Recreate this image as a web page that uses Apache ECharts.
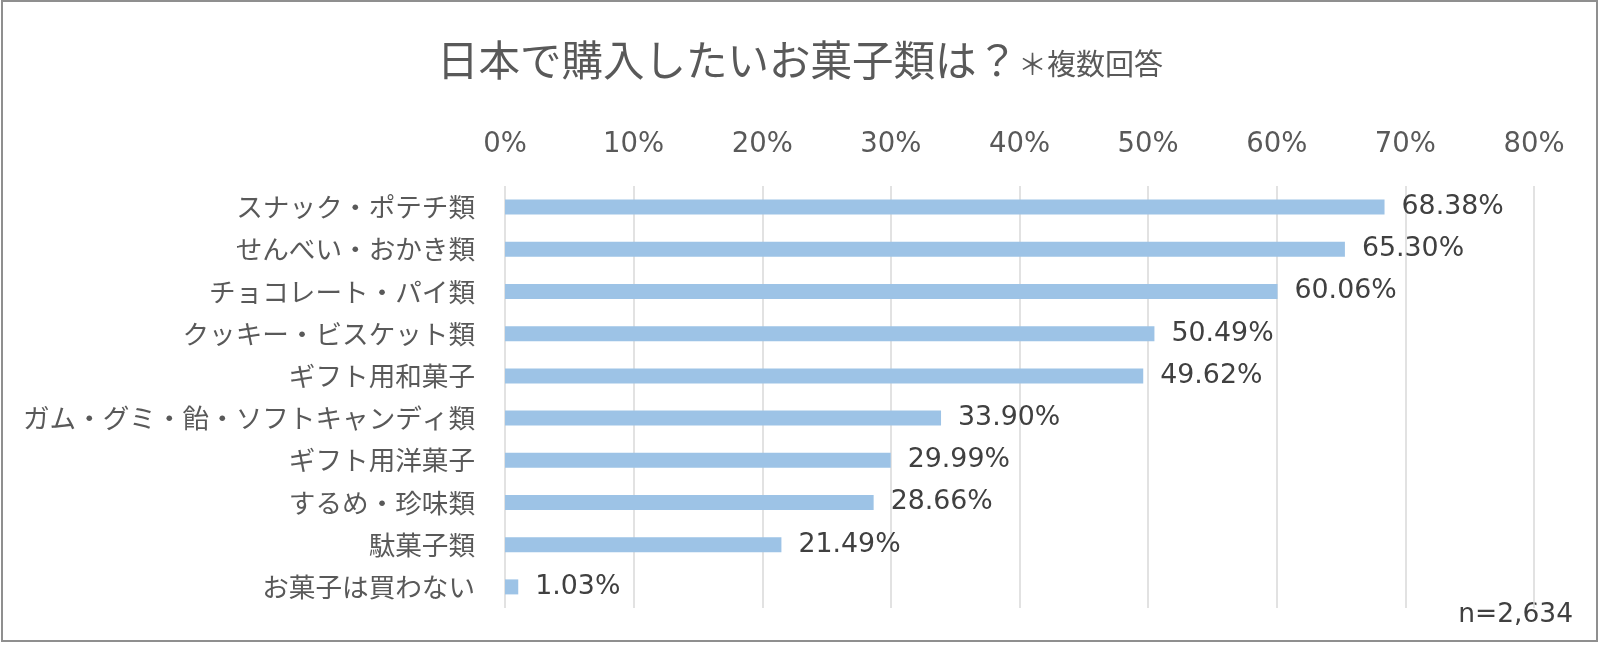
<!DOCTYPE html>
<html>
<head>
<meta charset="utf-8">
<script src="https://cdn.jsdelivr.net/npm/echarts@6/dist/echarts.min.js"></script>
<style>
html,body{margin:0;padding:0;background:#fff;}
#chart{width:1600px;height:648px;}
</style>
</head>
<body>
<div id="chart"></div>
<script>
const titleMain = '日本で購入したいお菓子類は？';
const titleSub = '＊複数回答';
const categories = ['スナック・ポテチ類','せんべい・おかき類','チョコレート・パイ類','クッキー・ビスケット類','ギフト用和菓子','ガム・グミ・飴・ソフトキャンディ類','ギフト用洋菓子','するめ・珍味類','駄菓子類','お菓子は買わない'];
const values = [68.38,65.30,60.06,50.49,49.62,33.90,29.99,28.66,21.49,1.03];
const axisMin = 0, axisMax = 80, axisStep = 10;
const sampleNote = 'n=2,634';

const chart = echarts.init(document.getElementById('chart'), null, {renderer:'canvas'});
const jp = '"Noto Sans CJK JP", "Noto Sans", sans-serif';
const num = '"DejaVu Sans", Verdana, sans-serif';
chart.setOption({
  backgroundColor:'#ffffff',
  animation:false,
  title:{
    text:'{a|'+titleMain+'}{b|'+titleSub+'}',
    left:'center', top:26,
    textStyle:{
      fontWeight:'normal',
      rich:{
        a:{fontFamily:jp,fontSize:41.5,fontWeight:'normal',color:'#595959',lineHeight:50,verticalAlign:'bottom'},
        b:{fontFamily:jp,fontSize:29,fontWeight:'normal',color:'#595959',lineHeight:50,verticalAlign:'bottom',padding:[0,0,3,0]}
      }
    }
  },
  grid:{left:505,right:66,top:186,bottom:40,containLabel:false},
  xAxis:{
    type:'value', position:'top', min:axisMin, max:axisMax, interval:axisStep,
    axisLine:{show:false}, axisTick:{show:false},
    axisLabel:{formatter:'{value}%', fontFamily:num, fontSize:27.5, color:'#595959', margin:27},
    splitLine:{show:true, lineStyle:{color:'#d9d9d9', width:1.5}}
  },
  yAxis:{
    type:'category', data:categories, inverse:true,
    axisLine:{show:false}, axisTick:{show:false},
    axisLabel:{fontFamily:jp, fontSize:26.6, color:'#595959', margin:30}
  },
  series:[{
    type:'bar', data:values, barWidth:15,
    itemStyle:{color:'#9dc3e6'},
    label:{show:true, position:'right', distance:17, fontFamily:num, fontSize:26.8, color:'#404040',
      formatter:p=>p.value.toFixed(2)+'%'}
  }],
  graphic:[
    {type:'rect', shape:{x:2,y:1,width:1595,height:640}, style:{fill:null, stroke:'#8f8f8f', lineWidth:2}, silent:true},
    {type:'text', right:27, top:602, style:{text:sampleNote, font:'26.5px '+num, fill:'#404040'}}
  ]
});
</script>
</body>
</html>
